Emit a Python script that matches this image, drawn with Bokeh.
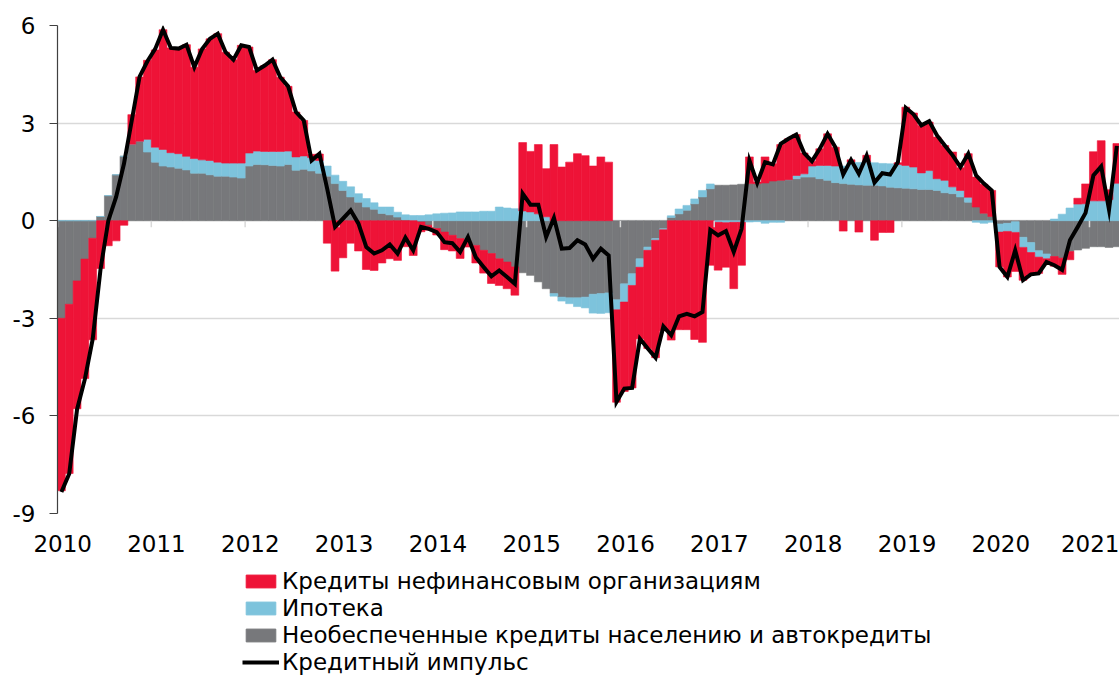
import numpy as np
import pandas as pd
from bokeh.plotting import figure
from bokeh.layouts import column
from bokeh.models import ColumnDataSource, Legend, LegendItem, FixedTicker, Range1d
from bokeh.embed import file_html
from bokeh.resources import INLINE

# ---------------- data (monthly, Jan 2010 - Apr 2021), p.p. ----------------
start_year = 2010
years = list(range(2010, 2022))
y_ticks = [-9, -6, -3, 0, 3, 6]

# Кредиты нефинансовым организациям
corporate = [
    -5.30, -5.20, -3.93, -3.67, -3.12, -1.47, -0.77, -0.62, -0.14, 0.91, 1.98, 2.43,   # 2010
    2.99, 3.68, 3.22, 3.23, 3.43, 2.81, 3.41, 3.74, 3.95, 3.41, 3.18, 3.62,             # 2011
    3.26, 2.48, 2.64, 2.82, 2.28, 1.99, 1.38, 1.09, 0.10, 0.20, -0.69, -1.55,           # 2012
    -1.14, -0.69, -0.93, -1.50, -1.53, -1.30, -1.17, -1.22, -0.80, -1.07, -0.30, -0.15, # 2013
    -0.20, -0.54, -0.48, -0.61, -0.15, -0.54, -0.70, -0.92, -0.82, -0.82, -0.87, 2.10,  # 2014
    1.86, 2.13, 1.48, 2.34, 1.65, 1.80, 2.06, 2.00, 1.68, 1.96, 1.80, -2.84,            # 2015
    -2.75, -3.15, -2.20, -3.02, -3.61, -3.10, -3.67, -3.35, -3.35, -3.65, -3.74, -1.37, # 2016
    -1.47, -1.37, -2.04, -1.32, 0.82, 0.05, 0.80, 0.53, 1.10, 1.26, 1.26, 0.64,         # 2017
    0.15, 0.51, 0.97, 0.58, -0.32, 0.07, -0.35, 0.20, -0.60, -0.36, -0.36, 0.05,        # 2018
    1.79, 1.66, 1.46, 1.49, 1.28, 1.07, 1.07, 0.70, 1.34, 0.92, 0.89, 0.80,             # 2019
    -1.07, -1.40, -1.20, -1.01, -0.67, -0.50, -0.15, -0.30, -0.50, -0.25, 0.18, 0.61,   # 2020
    1.51, 1.85, 0.30, 1.22,                                                             # 2021
]

# Ипотека
mortgage = [
    0.00, 0.00, 0.00, 0.00, 0.00, 0.00, 0.00, 0.00, 0.00, 0.00, 0.00, 0.39,
    0.46, 0.51, 0.44, 0.45, 0.42, 0.45, 0.41, 0.44, 0.43, 0.40, 0.43, 0.46,
    0.40, 0.41, 0.41, 0.43, 0.45, 0.41, 0.41, 0.41, 0.41, 0.39, 0.31, 0.26,
    0.28, 0.31, 0.26, 0.26, 0.20, 0.20, 0.24, 0.15, 0.15, 0.16, 0.16, 0.18,
    0.21, 0.23, 0.24, 0.27, 0.27, 0.27, 0.29, 0.29, 0.42, 0.39, 0.37, 0.30,
    0.27, 0.21, 0.12, -0.08, -0.12, -0.18, -0.27, -0.33, -0.58, -0.61, -0.61, -0.31,
    -0.56, -0.36, -0.26, -0.10, -0.05, -0.03, 0.05, 0.15, 0.15, 0.15, 0.20, 0.15,
    -0.05, -0.06, -0.05, -0.05, -0.04, -0.03, -0.08, -0.05, -0.05, 0.00, 0.10, 0.10,
    0.34, 0.41, 0.46, 0.51, 0.54, 0.68, 0.69, 0.72, 0.69, 0.69, 0.72, 0.72,
    0.70, 0.67, 0.51, 0.58, 0.36, 0.38, 0.21, 0.20, 0.15, -0.05, -0.08, -0.05,
    -0.25, -0.25, -0.33, -0.31, -0.31, -0.20, -0.15, 0.05, 0.20, 0.39, 0.51, 0.52,
    0.61, 0.61, 0.65, 1.15,
]

# Необеспеченные кредиты населению и автокредиты
unsecured = [
    -3.00, -2.57, -1.85, -1.18, -0.54, 0.13, 0.77, 1.41, 1.98, 2.35, 2.44, 2.11,
    1.80, 1.68, 1.65, 1.61, 1.56, 1.46, 1.46, 1.41, 1.37, 1.37, 1.34, 1.31,
    1.68, 1.73, 1.72, 1.70, 1.68, 1.73, 1.55, 1.58, 1.53, 1.46, 1.37, 1.14,
    0.93, 0.73, 0.57, 0.42, 0.35, 0.22, 0.18, 0.11, 0.03, 0.00, -0.04, -0.14,
    -0.24, -0.35, -0.45, -0.55, -0.66, -0.76, -0.91, -1.01, -1.17, -1.27, -1.42, -1.60,
    -1.68, -1.88, -2.09, -2.24, -2.35, -2.37, -2.37, -2.35, -2.26, -2.24, -2.22, -2.43,
    -1.94, -1.63, -1.17, -0.81, -0.55, -0.25, 0.10, 0.21, 0.32, 0.52, 0.73, 0.98,
    1.09, 1.09, 1.10, 1.12, 1.14, 1.14, 1.16, 1.22, 1.24, 1.26, 1.29, 1.34,
    1.34, 1.29, 1.24, 1.17, 1.14, 1.12, 1.10, 1.09, 1.09, 1.07, 1.03, 1.01,
    1.00, 0.98, 0.96, 0.96, 0.93, 0.86, 0.83, 0.73, 0.57, 0.42, 0.23, 0.13,
    -0.10, -0.08, -0.03, -0.51, -0.67, -0.92, -1.02, -1.10, -1.15, -0.95, -0.90, -0.85,
    -0.80, -0.80, -0.82, -0.80,
]

# Кредитный импульс
impulse = [
    -8.34, -7.78, -5.80, -4.87, -3.64, -1.50, 0.00, 0.73, 1.75, 3.08, 4.43, 4.90,
    5.28, 5.87, 5.31, 5.29, 5.41, 4.72, 5.28, 5.59, 5.75, 5.18, 4.95, 5.39,
    5.34, 4.62, 4.77, 4.95, 4.41, 4.13, 3.34, 3.08, 1.85, 2.06, 0.98, -0.19,
    0.06, 0.32, -0.09, -0.81, -1.01, -0.91, -0.73, -1.01, -0.52, -0.91, -0.19, -0.25,
    -0.35, -0.66, -0.69, -0.96, -0.50, -1.12, -1.42, -1.71, -1.53, -1.73, -1.94, 0.83,
    0.49, 0.49, -0.50, 0.09, -0.86, -0.84, -0.60, -0.73, -1.17, -0.86, -1.07, -5.57,
    -5.16, -5.14, -3.63, -3.93, -4.21, -3.25, -3.52, -2.94, -2.86, -2.94, -2.81, -0.28,
    -0.45, -0.32, -0.96, -0.25, 1.85, 1.16, 1.80, 1.73, 2.36, 2.52, 2.65, 2.08,
    1.83, 2.21, 2.67, 2.26, 1.42, 1.87, 1.44, 2.00, 1.17, 1.46, 1.42, 1.80,
    3.47, 3.27, 2.93, 3.06, 2.62, 2.31, 2.01, 1.65, 2.06, 1.39, 1.14, 0.93,
    -1.42, -1.73, -0.91, -1.83, -1.65, -1.62, -1.27, -1.37, -1.51, -0.60, -0.19, 0.24,
    1.39, 1.67, 0.34, 2.30,
]

labels = {
    "corporate": "Кредиты нефинансовым организациям",
    "mortgage": "Ипотека",
    "unsecured": "Необеспеченные кредиты населению и автокредиты",
    "impulse": "Кредитный импульс",
}
colors = {"corporate": "#EE1337", "mortgage": "#7DC3DC", "unsecured": "#77787B"}

# ---------------- derived table ----------------
n = len(impulse)
df = pd.DataFrame({
    "x": start_year + (np.arange(n) + 0.5) / 12.0,
    "unsecured": unsecured, "mortgage": mortgage, "corporate": corporate,
    "impulse": impulse,
})
pos_base = np.zeros(n)
neg_base = np.zeros(n)
for key in ["unsecured", "mortgage", "corporate"]:
    s = df[key].to_numpy(dtype=float)
    bottom = np.where(s >= 0, pos_base, neg_base)
    top = bottom + s
    pos_base = np.where(s >= 0, top, pos_base)
    neg_base = np.where(s < 0, top, neg_base)
    df[key + "_bottom"] = bottom
    df[key + "_top"] = top
src = ColumnDataSource(df)

FONT = "DejaVu Sans"

# ---------------- main chart ----------------
p = figure(width=1119, height=562,
           x_range=Range1d(start_year, start_year + 135.84 / 12.0),
           y_range=Range1d(min(y_ticks), max(y_ticks)),
           output_backend="svg", toolbar_location=None,
           min_border_left=57, min_border_right=0, min_border_top=25, min_border_bottom=49)
p.outline_line_color = None
p.background_fill_color = "white"

for key in ["unsecured", "mortgage", "corporate"]:
    p.vbar(x="x", width=1 / 12.0, bottom=key + "_bottom", top=key + "_top",
           source=src, fill_color=colors[key], line_color=colors[key], line_width=0.6)

# small year marks on the zero line
p.segment(x0=years, x1=years, y0=[0] * len(years), y1=[-0.2] * len(years),
          line_color="#D9D9D9", line_width=1.5)

p.line(x="x", y="impulse", source=src, line_color="black", line_width=4, line_join="miter")

p.yaxis.ticker = FixedTicker(ticks=y_ticks)
p.yaxis.major_label_overrides = {t: str(t) for t in y_ticks}
p.yaxis.axis_line_color = "#404040"
p.yaxis.axis_line_width = 1.2
p.yaxis.major_tick_line_color = "#404040"
p.yaxis.major_tick_out = 8
p.yaxis.major_tick_in = 0
p.yaxis.minor_tick_line_color = None
p.yaxis.major_label_standoff = 14
p.yaxis.major_label_text_font = FONT
p.yaxis.major_label_text_font_size = "23px"
p.yaxis.major_label_text_color = "black"

xt = [y + 0.055 for y in years]
p.xaxis.ticker = FixedTicker(ticks=xt)
p.xaxis.major_label_overrides = {t: str(y) for t, y in zip(xt, years)}
p.xaxis.axis_line_color = None
p.xaxis.major_tick_line_color = None
p.xaxis.minor_tick_line_color = None
p.xaxis.major_tick_out = 0
p.xaxis.major_label_standoff = 21
p.xaxis.major_label_text_font = FONT
p.xaxis.major_label_text_font_size = "23px"
p.xaxis.major_label_text_color = "black"

p.xgrid.grid_line_color = None
p.ygrid.ticker = FixedTicker(ticks=y_ticks)
p.ygrid.grid_line_color = "#D9D9D9"
p.ygrid.grid_line_width = 1.5

# ---------------- legend strip ----------------
pl = figure(width=1119, height=113, x_range=Range1d(0, 1), y_range=Range1d(0, 1),
            output_backend="svg", toolbar_location=None,
            min_border_left=0, min_border_right=0, min_border_top=0, min_border_bottom=0,
            x_axis_location=None, y_axis_location=None)
pl.outline_line_color = None
pl.xgrid.visible = False
pl.ygrid.visible = False
nan = float("nan")
lr = {}
for key in ["corporate", "mortgage", "unsecured"]:
    lr[key] = pl.vbar(x=[nan], top=[nan], width=1, fill_color=colors[key],
                      line_color=colors[key])
lr["impulse"] = pl.line(x=[nan], y=[nan], line_color="black", line_width=4)

legend = Legend(items=[LegendItem(label=labels[k], renderers=[lr[k]])
                       for k in ["corporate", "mortgage", "unsecured", "impulse"]],
                location=(185, 0), orientation="vertical", padding=0, margin=0, spacing=0,
                glyph_width=37, glyph_height=16, label_standoff=3, label_height=27,
                label_text_font=FONT, label_text_font_size="23px", label_text_color="black",
                border_line_alpha=0, background_fill_alpha=0)
pl.add_layout(legend, "center")

layout = column(p, pl, spacing=0)
open("out.html", "w").write(file_html(layout, INLINE))
